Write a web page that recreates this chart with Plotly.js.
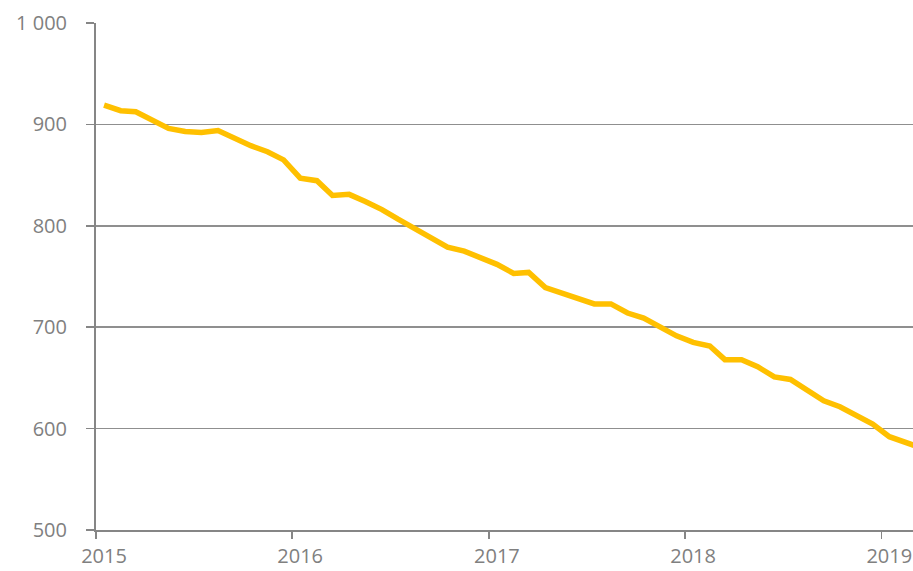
<!DOCTYPE html>
<html>
<head>
<meta charset="utf-8">
<script src="https://cdn.plot.ly/plotly-3.0.1.min.js"></script>
<style>
  html, body { margin: 0; padding: 0; background: #ffffff; }
  #chart { width: 913px; height: 571px; }
</style>
</head>
<body>
<div id="chart"></div>
<script>
// Monthly observations (Jan 2015 – Mar 2019)
const months = [
  "2015-01","2015-02","2015-03","2015-04","2015-05","2015-06","2015-07","2015-08","2015-09","2015-10","2015-11","2015-12",
  "2016-01","2016-02","2016-03","2016-04","2016-05","2016-06","2016-07","2016-08","2016-09","2016-10","2016-11","2016-12",
  "2017-01","2017-02","2017-03","2017-04","2017-05","2017-06","2017-07","2017-08","2017-09","2017-10","2017-11","2017-12",
  "2018-01","2018-02","2018-03","2018-04","2018-05","2018-06","2018-07","2018-08","2018-09","2018-10","2018-11","2018-12",
  "2019-01","2019-02","2019-03"
];
const values = [
  919, 913.5, 912.5, 904, 896, 893, 892, 894, 886, 879, 873, 865,
  847, 844.5, 830, 831, 824, 816, 806.5, 797.5, 788.5, 779, 775, 768.5,
  762, 753, 754, 739, 734, 729, 723, 723, 714, 709, 700.5, 691.5,
  685, 681.5, 668, 668, 661, 651, 648.5, 638, 627.5, 621.5, 612.5, 604.5,
  592, 586, 581
];
const yearTicks = ["2015-01-01","2016-01-01","2017-01-01","2018-01-01","2019-01-01"];
const yearLabels = ["2015","2016","2017","2018","2019"];
const yTicks = [500, 600, 700, 800, 900, 1000];

const trace = {
  type: "scatter",
  mode: "lines",
  x: months.map(m => m + "-16"),
  y: values,
  line: { color: "#FFC000", width: 5.5, shape: "linear" },
  hoverinfo: "x+y",
  showlegend: false
};

const axisGray = "#868686";
const textGray = "#808080";
const fontFam = "'Open Sans', Lato, sans-serif";

const layout = {
  width: 913,
  height: 571,
  margin: { l: 96, r: 0, t: 23, b: 41, pad: 0 },
  paper_bgcolor: "#ffffff",
  plot_bgcolor: "#ffffff",
  separators: ". ",
  font: { family: fontFam, size: 20, color: textGray },
  xaxis: {
    type: "date",
    range: ["2015-01-01", "2019-03-01"],
    tickmode: "array",
    tickvals: yearTicks,
    ticktext: yearLabels,
    ticks: "outside",
    ticklen: 7,
    tickwidth: 1.5,
    tickcolor: axisGray,
    ticklabelshift: 8,
    ticklabelstandoff: 0,
    showgrid: false,
    zeroline: false,
    showline: true,
    linecolor: axisGray,
    linewidth: 2,
    tickfont: { family: fontFam, size: 20, color: textGray },
    fixedrange: true
  },
  yaxis: {
    range: [500, 1000],
    tickmode: "array",
    tickvals: yTicks,
    tickformat: ",",
    ticks: "outside",
    ticklen: 8,
    tickwidth: 1.5,
    tickcolor: axisGray,
    ticklabelstandoff: 15,
    showgrid: true,
    gridcolor: "#8f8f8f",
    gridwidth: 1.5,
    zeroline: false,
    showline: true,
    linecolor: axisGray,
    linewidth: 2,
    tickfont: { family: fontFam, size: 20, color: textGray },
    fixedrange: true
  }
};

Plotly.newPlot("chart", [trace], layout, { displayModeBar: false, staticPlot: true });
</script>
</body>
</html>
